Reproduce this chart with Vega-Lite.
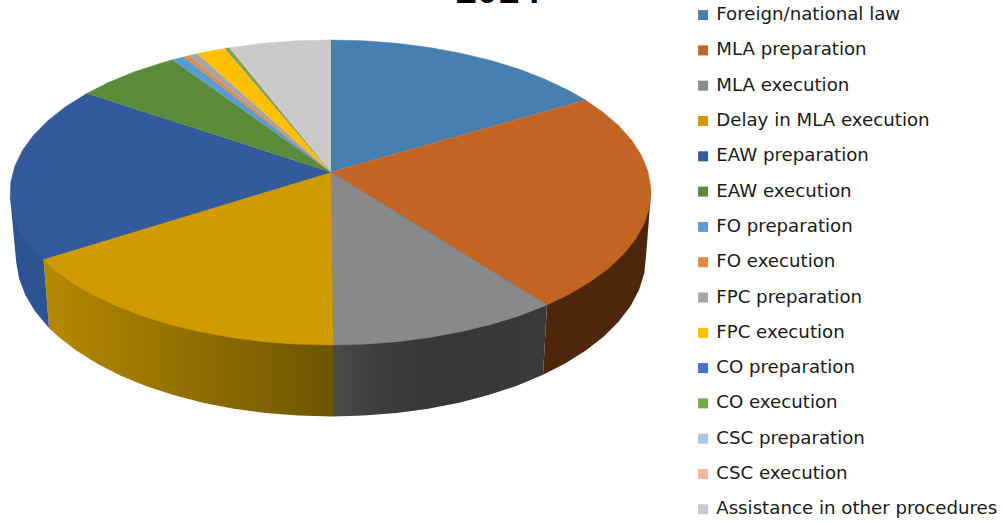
{"$schema":"https://vega.github.io/schema/vega-lite/v6.json","width":1003,"height":523,"padding":0,"autosize":{"type":"none"},"background":"white","config":{"view":{"stroke":null}},
"layer":[
{"data":{"values":[{"wall":"MLA preparation","xs":[0,320,315,313.3,308.1,299.6,287.8,272.8,254.8,234.1,212,216],"ys":[0,-20.5,-84.5,-101.2,-117.8,-133.9,-149.6,-164.5,-178.5,-191.6,-202.8,-132.9]}]},"transform":[{"flatten":["xs","ys"]}],"mark":{"type":"line","fill":"#4E260C","strokeWidth":0},"encoding":{"x":{"field":"xs","type":"quantitative","scale":{"domain":[-331,672],"nice":false,"zero":false},"axis":null},"y":{"field":"ys","type":"quantitative","scale":{"domain":[-351,172],"nice":false,"zero":false},"axis":null},"order":{"value":null}}},
{"data":{"values":[{"wall":"MLA execution","xs":[0,216,212,185.2,157.5,128.1,97.3,65.5,32.9,2,2],"ys":[0,-132.9,-202.8,-214,-223.1,-230.7,-236.7,-241,-243.6,-244.5,-173]}]},"transform":[{"flatten":["xs","ys"]}],"mark":{"type":"line","strokeWidth":0,"fill":{"gradient":"linear","x1":0,"x2":1,"y1":0,"y2":0,"stops":[{"offset":0,"color":"#4a4a4a"},{"offset":0.3,"color":"#3a3a3a"},{"offset":0.6,"color":"#363636"},{"offset":1,"color":"#3a3a3a"}]}},"encoding":{"x":{"field":"xs","type":"quantitative","scale":{"domain":[-331,672],"nice":false,"zero":false},"axis":null},"y":{"field":"ys","type":"quantitative","scale":{"domain":[-351,172],"nice":false,"zero":false},"axis":null},"order":{"value":null}}},
{"data":{"values":[{"wall":"Delay in MLA execution","xs":[0,2,2,-32.9,-65.5,-97.3,-128.1,-157.5,-185.2,-210.8,-234.1,-254.8,-272.8,-282,-287.5],"ys":[0,-173,-244.5,-243.6,-241,-236.7,-230.7,-223.1,-214,-203.4,-191.6,-178.5,-164.5,-155.9,-87.1]}]},"transform":[{"flatten":["xs","ys"]}],"mark":{"type":"line","strokeWidth":0,"fill":{"gradient":"linear","x1":0,"x2":1,"y1":0,"y2":0,"stops":[{"offset":0,"color":"#B68900"},{"offset":1,"color":"#6E5500"}]}},"encoding":{"x":{"field":"xs","type":"quantitative","scale":{"domain":[-331,672],"nice":false,"zero":false},"axis":null},"y":{"field":"ys","type":"quantitative","scale":{"domain":[-351,172],"nice":false,"zero":false},"axis":null},"order":{"value":null}}},
{"data":{"values":[{"wall":"EAW preparation","xs":[0,-287.5,-282,-296,-305.6,-311.9,-314.8,-320.8],"ys":[0,-87.1,-155.9,-139.2,-123.2,-106.8,-90.1,-25.8]}]},"transform":[{"flatten":["xs","ys"]}],"mark":{"type":"line","fill":"#2E5392","strokeWidth":0},"encoding":{"x":{"field":"xs","type":"quantitative","scale":{"domain":[-331,672],"nice":false,"zero":false},"axis":null},"y":{"field":"ys","type":"quantitative","scale":{"domain":[-351,172],"nice":false,"zero":false},"axis":null},"order":{"value":null}}},
{"data":{"values":[
{"slice":"Foreign/national law","xs":[0,0,33,66.1,98.5,129.8,159.8,187.9,214,237.7,254.5],"ys":[0,132,131.2,128.7,124.5,118.8,111.6,102.9,92.8,81.5,71.9]},
{"slice":"MLA preparation","xs":[0,254.5,271.3,287.6,300.7,310.5,316.9,319.8,320,318.2,313,304.3,292.3,277.1,258.8,237.7,216],"ys":[0,71.9,60.3,46.4,31.7,16.4,0.7,-15.2,-20.5,-36.4,-52.2,-67.6,-82.5,-96.8,-110.1,-122.5,-132.9]},
{"slice":"MLA execution","xs":[0,216,187.9,159.8,129.8,98.5,66.1,33,2],"ys":[0,-132.9,-143.9,-152.6,-159.8,-165.5,-169.7,-172.2,-173]},
{"slice":"Delay in  MLA execution","xs":[0,2,-34,-67.1,-99.5,-130.8,-160.8,-188.9,-214.9,-238.7,-259.8,-278.1,-287.5],"ys":[0,-173,-172.2,-169.7,-165.5,-159.8,-152.6,-143.9,-133.8,-122.5,-110.1,-96.8,-87.1]},
{"slice":"EAW preparation","xs":[0,-287.5,-301.7,-311.5,-317.9,-320.8,-320.2,-316.1,-308.6,-297.7,-283.5,-266.2,-243.9],"ys":[0,-87.1,-72.7,-57.4,-41.7,-25.8,-9.9,6,21.5,36.6,51.1,64.8,78.7]},
{"slice":"EAW execution","xs":[0,-243.9,-223.2,-197.8,-170.3,-158.3],"ys":[0,78.7,89.2,99.7,108.8,112.2]},
{"slice":"FO preparation","xs":[0,-158.3,-147],"ys":[0,112.2,115.1]},
{"slice":"FO execution","xs":[0,-147,-142],"ys":[0,115.1,116.3]},
{"slice":"FPC preparation","xs":[0,-142,-133.4],"ys":[0,116.3,118.3]},
{"slice":"FPC execution","xs":[0,-133.4,-120.6,-105.4],"ys":[0,118.3,120.9,123.6]},
{"slice":"CO preparation","xs":[0,-105.4,-104.3],"ys":[0,123.6,123.8]},
{"slice":"CO execution","xs":[0,-104.3,-101.6],"ys":[0,123.8,124.2]},
{"slice":"CSC preparation","xs":[0,-101.6,-101.1],"ys":[0,124.2,124.3]},
{"slice":"CSC execution","xs":[0,-101.1,-99.5],"ys":[0,124.3,124.5]},
{"slice":"Assistance in other procedures","xs":[0,-99.5,-67.1,-34,0],"ys":[0,124.5,128.7,131.2,132]}
]},"transform":[{"flatten":["xs","ys"]}],"mark":{"type":"line","strokeWidth":0.5},
"encoding":{"x":{"field":"xs","type":"quantitative","scale":{"domain":[-331,672],"nice":false,"zero":false},"axis":null},"y":{"field":"ys","type":"quantitative","scale":{"domain":[-351,172],"nice":false,"zero":false},"axis":null},"order":{"value":null},
"fill":{"field":"slice","type":"nominal","scale":{"domain":["Foreign/national law","MLA preparation","MLA execution","Delay in  MLA execution","EAW preparation","EAW execution","FO preparation","FO execution","FPC preparation","FPC execution","CO preparation","CO execution","CSC preparation","CSC execution","Assistance in other procedures"],"range":["#467EB0","#C26524","#898989","#CF9B00","#345A9E","#5B8A38","#5B9BD5","#E08A45","#A5A5A5","#FFC000","#4472C4","#70AD47","#A9C4E8","#F4B8A0","#C9C9C9"]},"legend":{"title":null,"orient":"none","legendX":694,"legendY":6,"symbolType":"square","symbolSize":100,"symbolStrokeWidth":0,"labelFont":"DejaVu Sans","labelFontSize":18.2,"labelColor":"#1a1a1a","labelLimit":400,"labelOffset":4,"rowPadding":16.3}},
"stroke":{"field":"slice","type":"nominal","scale":{"domain":["Foreign/national law","MLA preparation","MLA execution","Delay in  MLA execution","EAW preparation","EAW execution","FO preparation","FO execution","FPC preparation","FPC execution","CO preparation","CO execution","CSC preparation","CSC execution","Assistance in other procedures"],"range":["#467EB0","#C26524","#898989","#CF9B00","#345A9E","#5B8A38","#5B9BD5","#E08A45","#A5A5A5","#FFC000","#4472C4","#70AD47","#A9C4E8","#F4B8A0","#C9C9C9"]},"legend":null}}},
{"data":{"values":[{"title":"2014","xpos":167,"ypos":169.5}]},"mark":{"type":"text","font":"Liberation Sans","fontWeight":"bold","fontSize":38,"baseline":"alphabetic","align":"center","color":"black"},"encoding":{"text":{"field":"title"},"x":{"field":"xpos","type":"quantitative","scale":{"domain":[-331,672],"nice":false,"zero":false},"axis":null},"y":{"field":"ypos","type":"quantitative","scale":{"domain":[-351,172],"nice":false,"zero":false},"axis":null}}}
]}
